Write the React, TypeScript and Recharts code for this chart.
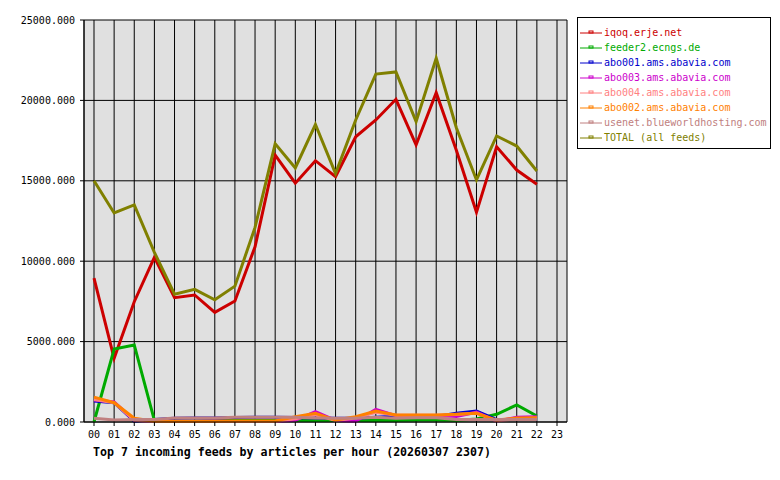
import React from 'react';
import {
  LineChart,
  Line,
  XAxis,
  YAxis,
  CartesianGrid
} from 'recharts';

const hours = [
  '00', '01', '02', '03', '04', '05', '06', '07', '08', '09', '10', '11',
  '12', '13', '14', '15', '16', '17', '18', '19', '20', '21', '22', '23'
];

const iqoq = [8950, 3960, 7480, 10240, 7730, 7900, 6820, 7520, 10900, 16600, 14850, 16250, 15250, 17740, 18780, 20070, 17230, 20480, 16900, 13040, 17120, 15670, 14780, null];
const feeder2 = [0, 4540, 4790, 100, 50, 50, 100, 100, 100, 100, 100, 100, 100, 100, 100, 100, 120, 120, 100, 190, 480, 1060, 370, null];
const abo001 = [1300, 1200, 50, 150, 240, 250, 250, 280, 290, 290, 280, 250, 230, 230, 290, 350, 350, 350, 540, 680, 150, 150, 150, null];
const abo003 = [1370, 1250, 100, 30, 30, 30, 60, 30, 30, 30, 100, 640, 100, 50, 790, 400, 400, 400, 350, 610, 50, 290, 330, null];
const abo004 = [1400, 1200, 100, 30, 30, 30, 30, 30, 30, 30, 200, 450, 100, 250, 600, 420, 420, 420, 470, 560, 60, 200, 250, null];
const abo002 = [1550, 1200, 230, 50, 50, 50, 50, 60, 60, 60, 330, 540, 120, 330, 680, 435, 435, 435, 480, 540, 120, 250, 270, null];
const usenet = [230, 120, 150, 150, 250, 250, 250, 290, 290, 290, 290, 250, 230, 230, 300, 230, 270, 270, 150, 150, 150, 150, 150, null];
const total = [15000, 13000, 13500, 10550, 7950, 8250, 7600, 8450, 12100, 17300, 15800, 18500, 15450, 18780, 21640, 21770, 18680, 22620, 18300, 15050, 17790, 17160, 15610, null];

const yTicks = [0, 5000, 10000, 15000, 20000, 25000];

const feeds = [
  { key: 'iqoq', name: 'iqoq.erje.net', color: '#cc0000', values: iqoq },
  { key: 'feeder2', name: 'feeder2.ecngs.de', color: '#00aa00', values: feeder2 },
  { key: 'abo001', name: 'abo001.ams.abavia.com', color: '#0000cc', values: abo001 },
  { key: 'abo003', name: 'abo003.ams.abavia.com', color: '#cc00cc', values: abo003 },
  { key: 'abo004', name: 'abo004.ams.abavia.com', color: '#ff8080', values: abo004 },
  { key: 'abo002', name: 'abo002.ams.abavia.com', color: '#ff8000', values: abo002 },
  { key: 'usenet', name: 'usenet.blueworldhosting.com', color: '#c08080', values: usenet },
  { key: 'total', name: 'TOTAL (all feeds)', color: '#808000', values: total }
];

const data = hours.map((hour, i) => {
  const row: Record<string, string | number | null> = { hour };
  feeds.forEach(f => {
    row[f.key] = f.values[i];
  });
  return row;
});

const FONT = '"DejaVu Sans Mono", "Liberation Mono", monospace';

// legend drawn as plain html so it doesn't eat the plot space
const FeedLegend = () => (
  <div
    style={{
      position: 'absolute',
      left: 577,
      top: 17,
      width: 194,
      height: 132,
      border: '1px solid #000',
      background: '#fff',
      boxSizing: 'border-box',
      paddingTop: 7
    }}
  >
    {feeds.map(f => (
      <div key={f.key} style={{ height: 15, display: 'flex', alignItems: 'center' }}>
        <svg width={26} height={15} style={{ flex: 'none' }}>
          <line x1={2} y1={8} x2={24} y2={8} stroke={f.color} strokeWidth={1} />
          <rect x={11} y={6} width={4} height={2} fill="none" stroke={f.color} strokeWidth={1} />
        </svg>
        <span style={{ fontFamily: FONT, fontSize: 10, color: f.color, whiteSpace: 'pre' }}>{f.name}</span>
      </div>
    ))}
  </div>
);

const App = () => (
  <div style={{ position: 'absolute', left: 0, top: 0, width: 780, height: 480, background: '#fff' }}>
    <LineChart
      width={780}
      height={480}
      data={data}
      margin={{ top: 20, right: 213, bottom: 38, left: 4 }}
      style={{ fontFamily: FONT }}
    >
      <CartesianGrid stroke="#000" strokeWidth={1} fill="#e0e0e0" fillOpacity={1} />
      <XAxis
        dataKey="hour"
        padding={{ left: 10, right: 10 }}
        interval={0}
        height={20}
        axisLine={{ stroke: '#000' }}
        tickLine={{ stroke: '#000' }}
        tickSize={4}
        tickMargin={5}
        tick={{ fill: '#000', fontSize: 10, fontFamily: FONT }}
      />
      <YAxis
        domain={[0, 25000]}
        ticks={yTicks}
        width={80}
        interval={0}
        tickFormatter={(v: number) => v.toFixed(3)}
        axisLine={{ stroke: '#000' }}
        tickLine={{ stroke: '#000' }}
        tickSize={4}
        tickMargin={5}
        tick={{ fill: '#000', fontSize: 10, fontFamily: FONT }}
      />
      <YAxis
        yAxisId="frame"
        orientation="right"
        width={0}
        domain={[0, 25000]}
        tick={false}
        tickLine={false}
        axisLine={{ stroke: '#000' }}
      />
      {feeds.map(f => (
        <Line
          key={f.key}
          type="linear"
          dataKey={f.key}
          name={f.name}
          stroke={f.color}
          strokeWidth={3}
          dot={false}
          activeDot={false}
          isAnimationActive={false}
        />
      ))}
    </LineChart>
    <div
      style={{
        position: 'absolute',
        left: 93,
        top: 445,
        fontFamily: FONT,
        fontWeight: 'bold',
        fontSize: 11.6,
        color: '#000',
        whiteSpace: 'pre'
      }}
    >
      Top 7 incoming feeds by articles per hour (20260307 2307)
    </div>
    <FeedLegend />
  </div>
);

export default App;
